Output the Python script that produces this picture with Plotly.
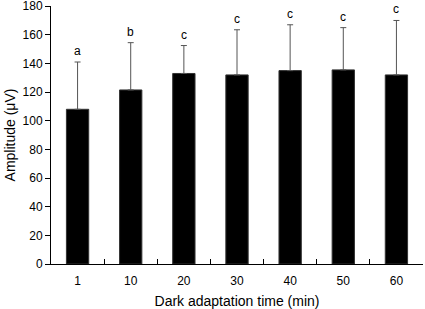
import plotly.graph_objects as go

categories = ["1", "10", "20", "30", "40", "50", "60"]
amplitude = [108, 121.5, 133, 132, 135, 135.5, 132]
sd = [33, 33, 19.5, 31.5, 32, 29.5, 38]
letters = ["a", "b", "c", "c", "c", "c", "c"]
yticks = [0, 20, 40, 60, 80, 100, 120, 140, 160, 180]

fig = go.Figure()
fig.add_trace(go.Bar(
    x=categories, y=amplitude,
    marker=dict(color="black", line=dict(color="#333333", width=1)),
    error_y=dict(type="data", array=sd, arrayminus=[0] * len(sd), symmetric=False,
                 color="#555555", thickness=1, width=3),
    width=0.42,
))
for i, (v, e, l) in enumerate(zip(amplitude, sd, letters)):
    fig.add_annotation(x=i, y=v + e, xref="x", yref="y", text=l, showarrow=False,
                       yanchor="bottom", yshift=2, font=dict(size=12, color="black"))

fig.update_layout(
    width=425, height=309,
    margin=dict(l=51, r=2, t=6, b=45),
    paper_bgcolor="white", plot_bgcolor="white",
    showlegend=False,
    font=dict(family="Liberation Sans, Arial", size=12, color="black"),
    xaxis=dict(type="category", tickson="boundaries", ticks="inside", ticklen=5,
               tickcolor="black", showline=True, linecolor="black", linewidth=1,
               showgrid=False, automargin=False, ticklabelstandoff=6,
               title=dict(text="Dark adaptation time (min)", standoff=8),
               range=[-0.5, 6.5]),
    yaxis=dict(range=[0, 180.1], tickvals=yticks, ticks="outside", ticklen=5,
               tickcolor="black", showline=True, linecolor="black", linewidth=1,
               showgrid=False, zeroline=False, automargin=False,
               ticklabeloverflow="allow",
               title=dict(text="Amplitude (μV)", standoff=3)),
)
fig.write_html("out.html", config={"displayModeBar": False},
               post_script="document.body.style.margin='0';document.body.style.padding='0';")
